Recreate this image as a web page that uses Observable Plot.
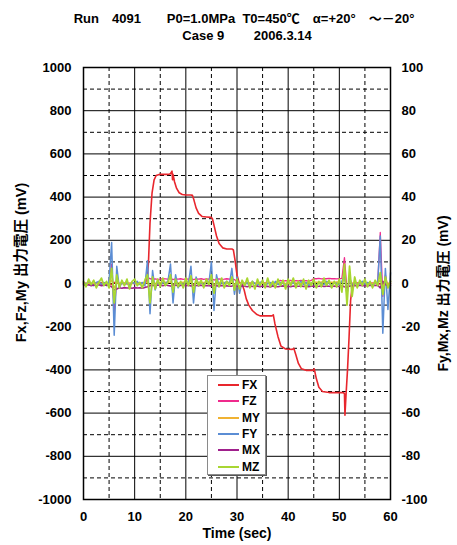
<!DOCTYPE html>
<html>
<head>
<meta charset="utf-8">
<script src="https://cdn.jsdelivr.net/npm/d3@7"></script>
<script src="https://cdn.jsdelivr.net/npm/@observablehq/plot@0.6"></script>
<style>
  body { margin: 0; background: #fff; font-family: "Liberation Sans", "Noto Sans CJK JP", sans-serif; }
  #wrap { position: relative; width: 457px; height: 545px; }
  #title { position: relative; width: 457px; height: 50px; font-weight: bold; font-size: 13px; color: #000; }
  .tl { position: absolute; white-space: pre; transform: translate(-50%, -50%); line-height: 1; }
  #legend { position: absolute; left: 207px; top: 375px; width: 57px; height: 98px; background: #fff;
            border: 1px solid #8a8a8a; box-shadow: 1px 1px 0 #555; }
  .row { position: absolute; left: 0; height: 14px; transform: translateY(-50%); }
  .sw { position: absolute; left: 10px; top: 6px; width: 21px; height: 2px; }
  .lb { position: absolute; left: 34px; top: 0; font-weight: bold; font-size: 12px; line-height: 14px; color: #000; }
</style>
</head>
<body>
<div id="wrap">
  <div id="title">
    <div class="tl" style="left:244px; top:18px;">Run　4091　　P0=1.0MPa  T0=450℃　α=+20°　～－20°</div>
    <div class="tl" style="left:247px; top:35px;">Case 9　　 2006.3.14</div>
  </div>
  <div id="chart"></div>
  <div id="legend"></div>
</div>
<script>
// ---- sample times (sec) for the noise channels ----
const time = [0,0.5,1,1.5,2,2.5,3,3.5,4,4.5,5,5.5,6,6.5,7,7.5,8,8.5,9,9.5,
  10,10.5,11,11.5,12,12.5,13,13.5,14,14.5,15,15.5,16,16.5,17,17.5,18,18.5,19,19.5,
  20,20.5,21,21.5,22,22.5,23,23.5,24,24.5,25,25.5,26,26.5,27,27.5,28,28.5,29,29.5,
  30,30.5,31,31.5,32,32.5,33,33.5,34,34.5,35,35.5,36,36.5,37,37.5,38,38.5,39,39.5,
  40,40.5,41,41.5,42,42.5,43,43.5,44,44.5,45,45.5,46,46.5,47,47.5,48,48.5,49,49.5,
  50,50.5,51,51.5,52,52.5,53,53.5,54,54.5,55,55.5,56,56.5,57,57.5,58,58.5,59,59.5,60];

// ---- FX (left axis, mV) ----
const fxTime = [0,1,2,3,4,5,5.5,6,7,8,9,10,11,12,12.4,12.7,13.0,13.4,13.8,14.2,14.8,15.5,16.5,17.0,17.3,17.4,17.5,17.8,18.2,18.7,19.3,20,21,21.3,21.6,22,22.5,23.2,24,25,25.2,25.5,26,26.5,27.2,28,29,29.3,29.6,30,30.4,31,31.4,31.8,32.3,33,33.8,34.5,35.5,36.8,37.1,37.4,38,38.6,39.5,40.8,41.1,41.5,42,42.6,43.5,44.9,45.1,45.5,46,46.7,48,50,50.8,51.0,51.1,51.3,51.6,51.9,52.2,52.5,53,54,55,56,57,58,59,60];
const fxValue = [2,-1,0,2,3,-2,-5,5,0,1,-1,2,0,0,5,100,280,420,480,500,505,505,505,508,520,480,505,470,440,420,412,410,410,408,385,350,325,310,308,306,300,270,220,185,165,160,160,155,110,40,5,-3,-30,-70,-100,-125,-142,-150,-150,-150,-145,-185,-245,-290,-303,-305,-300,-330,-370,-395,-402,-402,-395,-440,-480,-500,-505,-505,-505,-510,-610,-520,-400,-250,-80,-15,0,2,-1,1,0,-2,1,0];

// ---- FZ, MY (left axis, mV) ----
const fz = [2,-3,4,0,-2,3,1,-2,2,0,
  5,90,-130,20,-5,3,0,-2,2,1,
  -2,3,0,2,5,30,22,20,21,19,
  20,22,21,20,24,18,21,20,22,19,
  21,20,23,18,21,20,22,19,21,20,
  24,16,20,21,19,20,22,20,21,18,
  8,3,0,2,-1,3,1,2,0,3,
  1,4,2,0,3,1,12,14,11,13,
  12,15,11,13,12,14,12,13,11,14,
  23,22,24,21,23,22,24,22,23,21,
  23,24,120,-30,10,2,0,3,-1,2,
  1,3,0,2,1,3,236,-60,40,-20,10];
const my = [1,-2,2,0,-1,2,0,-2,1,0,
  2,15,-20,5,-1,2,0,-1,1,2,
  0,-1,2,1,0,8,-10,3,1,4,
  5,3,6,4,8,-6,5,3,4,6,
  3,5,8,-5,4,6,3,5,4,6,
  8,-6,5,4,3,5,4,6,6,-3,
  3,1,2,0,1,3,2,1,0,2,
  1,2,0,3,1,2,0,1,2,1,
  0,2,1,3,1,0,2,1,3,2,
  4,6,5,7,5,6,4,6,5,7,
  5,6,20,-25,10,2,1,0,2,1,
  0,2,1,0,2,1,15,-15,5,-3,2];

// ---- FY, MX, MZ (right axis, mV) ----
const fy = [0.5,-0.5,1,0,-1,0.5,1,-0.5,0.5,-1,
  1,19,-24,8,-2,0.5,-0.5,0.5,-1,0.5,
  0,1,-0.5,0.5,-1,10.5,-14,6,-3,1,
  -1,0.5,0,1,9,-9,4,-2,0.5,-0.5,
  1,0,8,-9,3,-1,0.5,-0.5,1,0,
  10,-12.5,4,-1.5,0.5,0,1,-0.5,7,-5,
  3,-4.5,1,-0.5,0.5,-1.5,1,0,-1,0.5,
  1,-1,0,0.5,-1,1,-0.5,0.5,0,-1,
  1,-0.5,0.5,-1,0,1,-0.5,0.5,-1,0,
  1,-1,0.5,0,-0.5,1,0,-1,0.5,0,
  -0.5,1,4,-5,3,-1,0.5,-0.5,0,1,
  -0.5,0.5,0,-1,0.5,0,22,-23,7,-12,5];
const mx = [-0.5,-0.8,-0.6,-1,-0.7,-0.9,-0.6,-1,-0.8,-0.7,
  -1,-1.5,-3,-2.5,-2,-2.2,-1.9,-2.1,-2,-2.2,
  -1.9,-2.1,-2,-2.2,-1.8,-1.5,-1,-0.8,-0.9,-0.7,
  -0.8,-1,-0.7,-0.9,-1.2,-0.6,-0.8,-1,-0.9,-0.7,
  -1,-0.8,-1.1,-0.7,-0.9,-1,-0.8,-1.2,-0.9,-1,
  -1.1,-0.8,-1,-1.2,-0.9,-1.1,-1,-1.3,-1.2,-0.9,
  -1.2,-1.4,-1.1,-1.3,-1.5,-1.2,-1.4,-1.1,-1.3,-1.5,
  -1.2,-1.4,-1.3,-1.6,-1.2,-1.4,-1.5,-1.3,-1.1,-1.4,
  -1.3,-1.5,-1.2,-1.4,-1.3,-1.1,-1.4,-1.2,-1.5,-1.3,
  -1.2,-1.4,-1.3,-1.1,-1.4,-1.2,-1.3,-1.5,-1.2,-1.4,
  -1.3,-1.1,-1.5,-1.8,-1.2,-1,-0.9,-1.1,-0.8,-1,
  -0.9,-1.1,-0.8,-1,-0.9,-0.8,-2,1,-0.5,-1,-0.8];
const mz = [1,-1.5,2,-0.5,1.5,-2,0.5,2.5,-1,1,
  -2,7,-9,4,-2,1.5,-1,2,-2.5,1,
  2,-1,0.5,-2,1.5,4,-9,3,-2.5,2,
  -1.5,2.5,-1,0.5,4,-4,2,-1.5,1,-2,
  2.5,-1,3.5,-4,2,-1,1.5,-2,2,-0.5,
  4,-4.5,2,-1.5,2.5,-2,1,-1,3,-3,
  2,-2.5,1.5,-1,2.5,-2,1,-2.5,2,-1,
  1.5,-2,2.5,-1.5,1,-2,2,-1,1.5,-2.5,
  2,-1,2.5,-2,1,-1.5,2,-2.5,1.5,-1,
  2,-2,1,-1.5,2.5,-1,1.5,-2,1,-1.5,
  2,-4,9,-10,8,-6,3,-2,1.5,-1,
  2,-1.5,1,-2,1.5,-1,5,-5,3,-2,1];

// ---- axes / grid ticks ----
const xTicks = [0,10,20,30,40,50,60];
const xMajor = [10,20,30,40,50];
const xMinor = [5,15,25,35,45,55];
const yTicks = [-1000,-800,-600,-400,-200,0,200,400,600,800,1000];
const yMajor = [-800,-600,-400,-200,0,200,400,600,800];
const yMinor = [-900,-700,-500,-300,-100,100,300,500,700,900];
const y2Ticks = [-100,-80,-60,-40,-20,0,20,40,60,80,100];
const rightScale = 10; // right axis (±100) maps onto left axis (±1000)

const series = [
  {name: "FX", color: "#e8262d"},
  {name: "FZ", color: "#ef2a8c"},
  {name: "MY", color: "#f0b232"},
  {name: "FY", color: "#5b8dd4"},
  {name: "MX", color: "#a0208c"},
  {name: "MZ", color: "#a8d632"}
];
const col = Object.fromEntries(series.map(s => [s.name, s.color]));

const font = "'Liberation Sans', 'Noto Sans CJK JP', sans-serif";
const fmt = d => (d < 0 ? "-" + (-d) : String(d));

const chart = Plot.plot({
  width: 457,
  height: 495,
  marginLeft: 83,
  marginRight: 67,
  marginTop: 17,
  marginBottom: 46,
  style: {fontFamily: font, fontSize: "13px", fontWeight: "bold", color: "#000", background: "#fff", overflow: "visible"},
  x: {domain: [0, 60], label: null},
  y: {domain: [-1000, 1000], label: null},
  marks: [
    Plot.ruleX(xMinor, {stroke: "#000", strokeWidth: 1, strokeDasharray: "4,3"}),
    Plot.ruleY(yMinor, {stroke: "#000", strokeWidth: 1, strokeDasharray: "4,3"}),
    Plot.ruleX(xMajor, {stroke: "#000", strokeWidth: 1}),
    Plot.ruleY(yMajor, {stroke: "#000", strokeWidth: 1}),
    Plot.line(fxTime, {x: fxTime, y: fxValue, stroke: col.FX, strokeWidth: 1.6}),
    Plot.line(time, {x: time, y: fz, stroke: col.FZ, strokeWidth: 1.3}),
    Plot.line(time, {x: time, y: my, stroke: col.MY, strokeWidth: 1.3}),
    Plot.line(time, {x: time, y: fy.map(v => v * rightScale), stroke: col.FY, strokeWidth: 1.5}),
    Plot.line(time, {x: time, y: mx.map(v => v * rightScale), stroke: col.MX, strokeWidth: 1.6}),
    Plot.line(time, {x: time, y: mz.map(v => v * rightScale), stroke: col.MZ, strokeWidth: 1.8}),
    Plot.frame({stroke: "#000", strokeWidth: 1.5}),
    Plot.axisX({ticks: xTicks, tickSize: 0, tickPadding: 12, label: null}),
    Plot.axisY({ticks: yTicks, tickFormat: fmt, tickSize: 0, tickPadding: 12, anchor: "left", label: null}),
    Plot.axisY({ticks: y2Ticks.map(v => v * rightScale), tickFormat: d => fmt(d / rightScale), tickSize: 0, tickPadding: 11, anchor: "right", label: null}),
    Plot.text(["Time (sec)"], {frameAnchor: "bottom", dy: 38, fontSize: 14, fontWeight: "bold"}),
    Plot.text(["Fx,Fz,My 出力電圧 (mV)"], {frameAnchor: "left", textAnchor: "middle", rotate: -90, dx: -62, dy: -21, fontSize: 14.5, fontWeight: "bold"}),
    Plot.text(["Fy,Mx,Mz 出力電圧 (mV)"], {frameAnchor: "right", textAnchor: "middle", rotate: -90, dx: 53, dy: 10, fontSize: 14, fontWeight: "bold"})
  ]
});
document.getElementById("chart").appendChild(chart);

// legend
const leg = document.getElementById("legend");
const rowY = [9, 25, 42, 58, 74, 91];
series.forEach((s, i) => {
  const r = document.createElement("div");
  r.className = "row";
  r.style.top = rowY[i] + "px";
  r.innerHTML = `<div class="sw" style="background:${s.color}"></div><div class="lb">${s.name}</div>`;
  leg.appendChild(r);
});
</script>
</body>
</html>
